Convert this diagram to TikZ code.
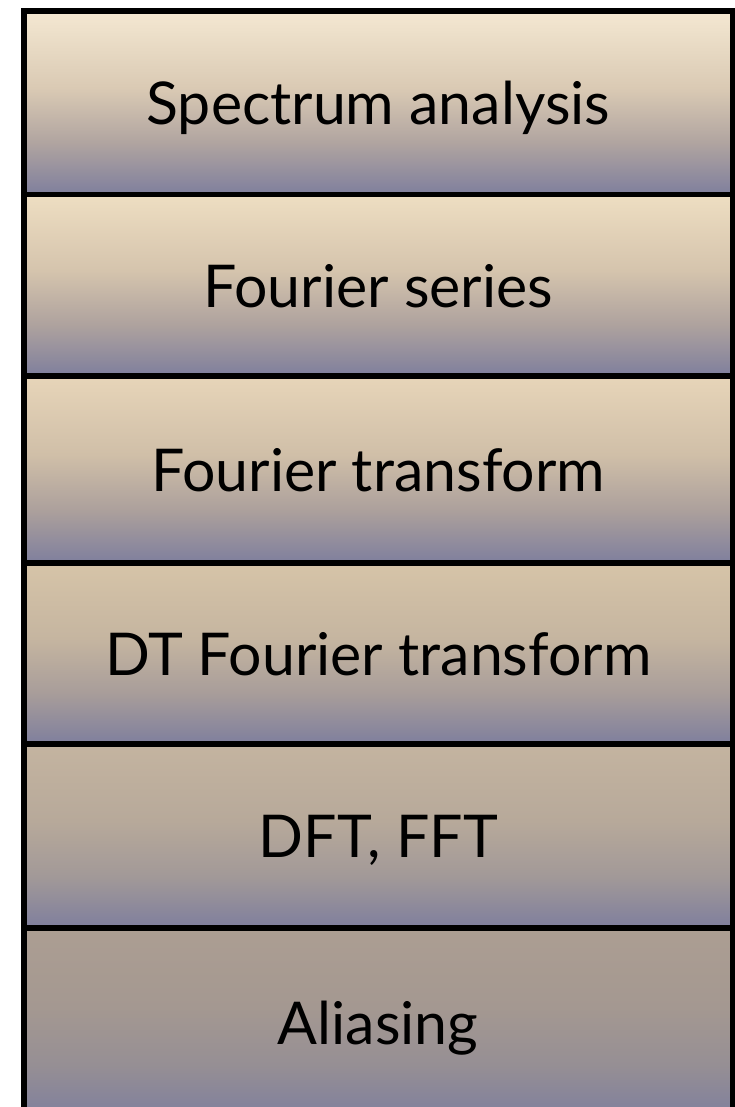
\documentclass[tikz,border=0pt]{standalone}
\usepackage{fontspec}
\setmainfont{Lato}
\definecolor{bot}{RGB}{127,127,157}
\definecolor{tA}{RGB}{244,232,210}\definecolor{mA}{RGB}{218,202,180}\definecolor{lA}{RGB}{176,164,160}
\definecolor{tB}{RGB}{238,222,194}\definecolor{mB}{RGB}{213,196,173}\definecolor{lB}{RGB}{174,162,158}
\definecolor{tC}{RGB}{231,213,185}\definecolor{mC}{RGB}{208,191,168}\definecolor{lC}{RGB}{172,160,156}
\definecolor{tD}{RGB}{214,196,168}\definecolor{mD}{RGB}{197,181,160}\definecolor{lD}{RGB}{168,157,154}
\definecolor{tE}{RGB}{196,180,160}\definecolor{mE}{RGB}{183,169,154}\definecolor{lE}{RGB}{162,153,152}
\definecolor{tF}{RGB}{172,158,146}\definecolor{mF}{RGB}{164,152,145}\definecolor{lF}{RGB}{150,143,148}
\pgfdeclareverticalshading{shA}{100bp}{color(0bp)=(bot);color(25bp)=(bot);color(39bp)=(lA);color(54bp)=(mA);color(75bp)=(tA);color(100bp)=(tA)}
\pgfdeclareverticalshading{shB}{100bp}{color(0bp)=(bot);color(25bp)=(bot);color(39bp)=(lB);color(54bp)=(mB);color(75bp)=(tB);color(100bp)=(tB)}
\pgfdeclareverticalshading{shC}{100bp}{color(0bp)=(bot);color(25bp)=(bot);color(39bp)=(lC);color(54bp)=(mC);color(75bp)=(tC);color(100bp)=(tC)}
\pgfdeclareverticalshading{shD}{100bp}{color(0bp)=(bot);color(25bp)=(bot);color(39bp)=(lD);color(54bp)=(mD);color(75bp)=(tD);color(100bp)=(tD)}
\pgfdeclareverticalshading{shE}{100bp}{color(0bp)=(bot);color(25bp)=(bot);color(39bp)=(lE);color(54bp)=(mE);color(75bp)=(tE);color(100bp)=(tE)}
\pgfdeclareverticalshading{shF}{100bp}{color(0bp)=(bot);color(25bp)=(bot);color(39bp)=(lF);color(54bp)=(mF);color(75bp)=(tF);color(100bp)=(tF)}
\begin{document}
\begin{tikzpicture}[x=1bp,y=-1bp,
  layer/.style={draw=black,line width=5.5bp,rectangle,minimum width=709bp,inner sep=0pt,anchor=north west},
  lbl/.style={anchor=base,inner sep=0pt,font=\fontsize{59bp}{70bp}\selectfont}]
\useasboundingbox (0,0) rectangle (735,1107);
\clip (0,0) rectangle (735,1107);
\node[layer,minimum height=183.5bp,shading=shA] (b1) at (21,8) {};
\node[layer,minimum height=181.5bp,shading=shB] (b2) at (21,191.5) {};
\node[layer,minimum height=187bp,shading=shC] (b3) at (21,373) {};
\node[layer,minimum height=181bp,shading=shD] (b4) at (21,560) {};
\node[layer,minimum height=184bp,shading=shE] (b5) at (21,741) {};
\node[layer,minimum height=190bp,shading=shF] (b6) at (21,925) {};
\node[lbl] (t1) at ([yshift=-22bp]b1.center) {Spectrum analysis};
\node[lbl] (t2) at ([yshift=-22bp]b2.center) {Fourier series};
\node[lbl] (t3) at ([yshift=-22bp]b3.center) {Fourier transform};
\node[lbl] (t4) at ([yshift=-22bp]b4.center) {DT Fourier transform};
\node[lbl] (t5) at ([yshift=-22bp]b5.center) {DFT, FFT};
\node[lbl] (t6) at ([yshift=-22bp]b6.center) {Aliasing};
\end{tikzpicture}
\end{document}
